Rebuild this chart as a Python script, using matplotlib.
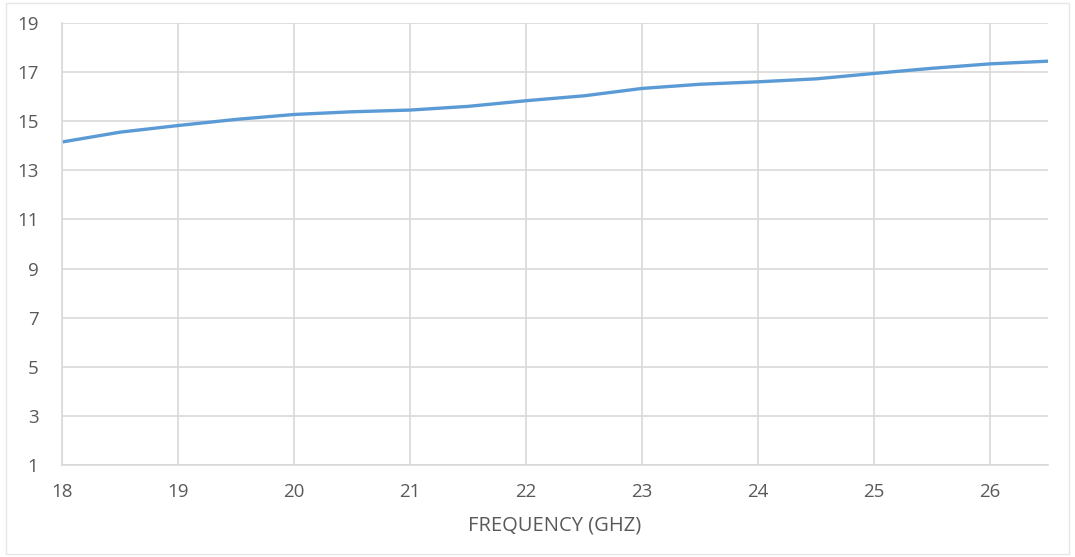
import matplotlib
matplotlib.use("Agg")
from matplotlib import pyplot as plt
from matplotlib.patches import Rectangle
import numpy as np

# frequency (GHz) and values
freq = [18, 18.5, 19, 19.5, 20, 20.5, 21, 21.5, 22, 22.5, 23, 23.5, 24, 24.5, 25, 25.5, 26, 26.5]
gain = [14.15, 14.55, 14.82, 15.07, 15.27, 15.38, 15.45, 15.6, 15.83, 16.03, 16.33, 16.5, 16.6, 16.72, 16.94, 17.15, 17.33, 17.44]

x_ticks = [18, 19, 20, 21, 22, 23, 24, 25, 26]
y_ticks = [1, 3, 5, 7, 9, 11, 13, 15, 17, 19]
x_label = "FREQUENCY (GHZ)"

plt.rcParams['font.family'] = ['Open Sans', 'DejaVu Sans']

fig = plt.figure(figsize=(10.75, 5.57), dpi=100)
ax = fig.add_axes([0.0577, 0.165, 0.9172, 0.794])

ax.plot(freq, gain, color='#5b9bd5', linewidth=2.4, solid_capstyle='round')

ax.set_xlim(18, 26.5)
ax.set_ylim(1, 19)
ax.set_xticks(x_ticks)
ax.set_yticks(y_ticks)
ax.grid(True, color='#d9d9d9', linewidth=1.2)
ax.set_axisbelow(True)
for s in ax.spines.values():
    s.set_visible(False)
ax.spines['left'].set_visible(True)
ax.spines['bottom'].set_visible(True)
ax.spines['left'].set_color('#d9d9d9')
ax.spines['bottom'].set_color('#d9d9d9')
ax.spines['left'].set_linewidth(1.2)
ax.spines['bottom'].set_linewidth(1.2)
ax.tick_params(axis='both', length=0, labelsize=13.5, labelcolor='#595959')
ax.tick_params(axis='y', pad=17)
ax.tick_params(axis='x', pad=13)
ax.set_xlabel(x_label, fontsize=14.5, color='#595959', labelpad=10)

# light frame round the whole chart
fig.patches.append(Rectangle((0.006, 0.006), 0.988, 0.988, transform=fig.transFigure,
                             fill=False, edgecolor='#e6e6e6', linewidth=1))

fig.savefig('out.png', dpi=100)
